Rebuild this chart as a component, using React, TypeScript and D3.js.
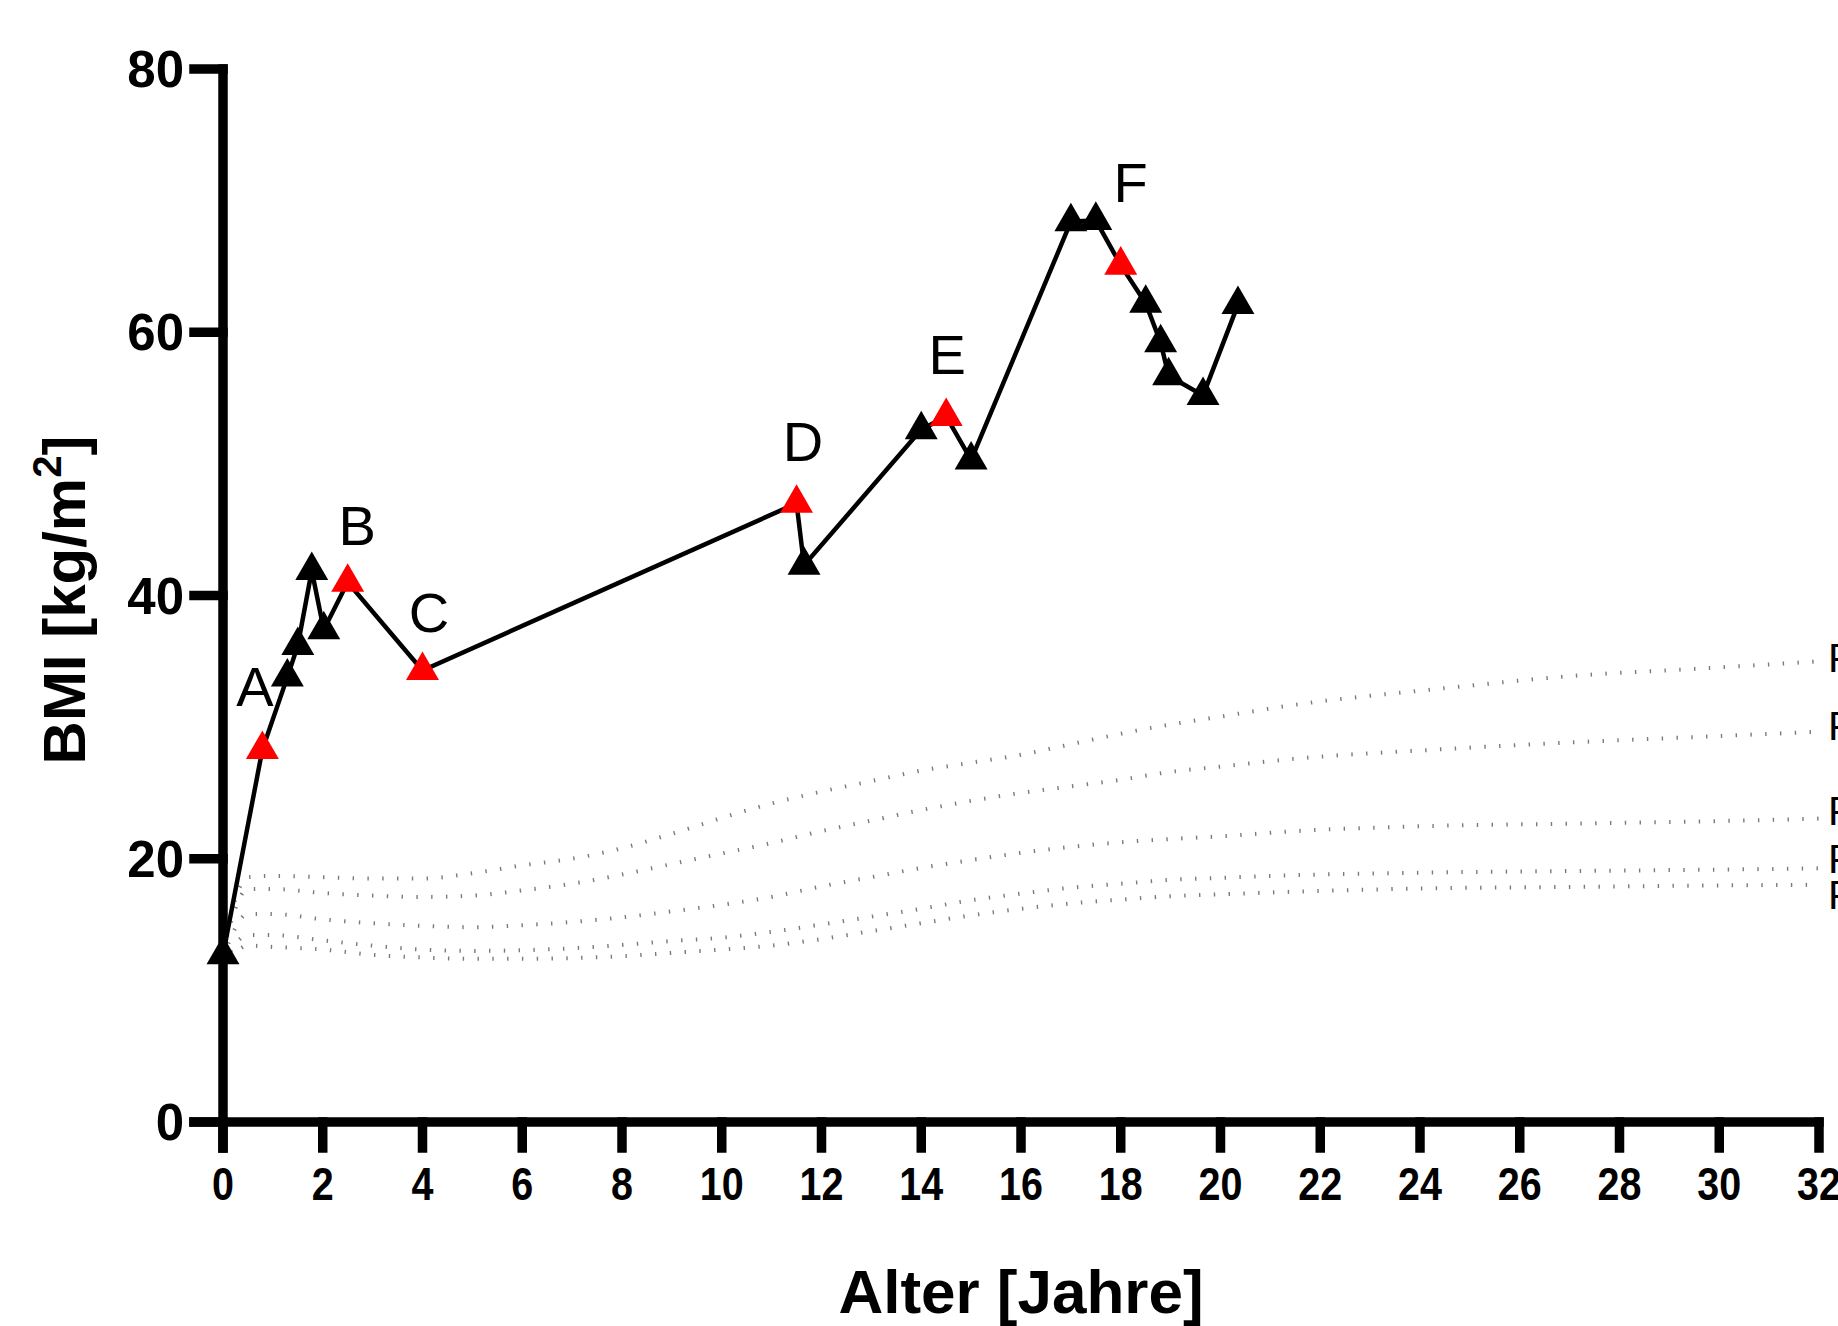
import React from "react";
import * as d3 from "d3";

// ---- Data ----
const PCT_AGES = [0, 0.5, 1, 2, 3, 4, 5, 6, 7, 8, 9, 10, 11, 12, 13, 14, 15, 16, 17, 18, 19, 20, 21.5, 24.35, 27.1, 29.85, 32];
const P97 = [13.5, 18.6, 18.7, 18.6, 18.5, 18.5, 18.9, 19.5, 20.0, 20.8, 21.9, 23.1, 24.2, 25.1, 25.9, 26.7, 27.3, 27.9, 28.7, 29.5, 30.2, 30.8, 31.7, 32.9, 33.9, 34.5, 35.0];
const P90 = [13.0, 17.7, 17.7, 17.4, 17.2, 17.1, 17.2, 17.6, 18.1, 18.8, 19.6, 20.4, 21.2, 22.1, 22.9, 23.7, 24.4, 25.0, 25.5, 26.0, 26.6, 27.0, 27.6, 28.3, 28.85, 29.3, 29.65];
const P50 = [12.5, 15.8, 15.8, 15.4, 15.1, 14.9, 14.8, 14.95, 15.2, 15.55, 16.0, 16.5, 17.1, 17.9, 18.6, 19.3, 19.9, 20.45, 20.9, 21.25, 21.5, 21.7, 22.1, 22.5, 22.67, 22.85, 23.05];
const P10 = [12.0, 14.2, 14.2, 13.8, 13.4, 13.1, 13.0, 13.05, 13.2, 13.45, 13.75, 14.0, 14.45, 15.0, 15.6, 16.2, 16.85, 17.35, 17.8, 18.1, 18.4, 18.55, 18.75, 18.96, 19.07, 19.17, 19.27];
const P3 = [11.5, 13.4, 13.3, 13.1, 12.7, 12.5, 12.4, 12.4, 12.45, 12.6, 12.85, 13.1, 13.4, 13.9, 14.5, 15.1, 15.7, 16.2, 16.6, 16.9, 17.15, 17.3, 17.5, 17.76, 17.86, 17.97, 18.02];
const PCT_SERIES = [P97, P90, P50, P10, P3];
const PCT_NAMES = ["P97", "P90", "P50", "P10", "P3"];
const PCT_LABEL_BMI = [34.2, 29.0, 22.6, 18.9, 16.2];

const PATIENT_AGE = [0, 0.79, 1.29, 1.5, 1.78, 2.02, 2.5, 4.0, 11.5, 11.65, 14.0, 14.5, 15.0, 17.0, 17.5, 18.0, 18.5, 18.8, 18.96, 19.65, 20.35];
const PATIENT_BMI = [12.7, 28.3, 33.8, 36.2, 41.9, 37.4, 41.0, 34.3, 47.0, 42.3, 52.6, 53.6, 50.3, 68.4, 68.5, 65.1, 62.2, 59.2, 56.7, 55.2, 62.1];
const PATIENT_HIGHLIGHT = [false, true, false, false, false, false, true, true, true, false, false, true, false, false, false, true, false, false, false, false, false];

const EVENT_LABELS = ["A", "B", "C", "D", "E", "F"];
const EVENT_AGE = [0.64, 2.69, 4.13, 11.63, 14.52, 18.2];
const EVENT_BMI = [31.6, 43.8, 37.2, 50.2, 56.8, 69.9];

const X_TICKS = [0, 2, 4, 6, 8, 10, 12, 14, 16, 18, 20, 22, 24, 26, 28, 30, 32];
const Y_TICKS = [0, 20, 40, 60, 80];

const W = 1838;
const H = 1326;

export default function App() {
  const x = d3.scaleLinear().domain([0, 32]).range([223, 1819]);
  const y = d3.scaleLinear().domain([0, 80]).range([1122, 69]);

  const pctLine = d3
    .line<number>()
    .x((_, i) => x(PCT_AGES[i]))
    .y((d) => y(d))
    .curve(d3.curveMonotoneX);

  const patientLine = d3
    .line<number>()
    .x((_, i) => x(PATIENT_AGE[i]))
    .y((d) => y(d));

  const tri = d3.symbol().type(d3.symbolTriangle).size(470)();

  const AX = 9.5;
  const yTickLen = 29;
  const xTickLen = 26;
  const font = "Arial, 'Liberation Sans', Helvetica, sans-serif";

  return (
    <svg
      width={W}
      height={H}
      viewBox={`0 0 ${W} ${H}`}
      style={{ position: "absolute", left: 0, top: 0, display: "block", background: "#fff" }}
      fontFamily={font}
    >
      {/* percentile curves */}
      <g fill="none" stroke="#7a7a7a" strokeWidth={4} strokeDasharray="1.4 13.4">
        {PCT_SERIES.map((s, k) => (
          <path key={k} d={pctLine(s) || ""} />
        ))}
      </g>
      {PCT_NAMES.map((n, k) => (
        <text key={n} x={1828} y={y(PCT_LABEL_BMI[k])} fontSize={41} fill="#000">
          {n}
        </text>
      ))}

      {/* patient line */}
      <path d={patientLine(PATIENT_BMI) || ""} fill="none" stroke="#000" strokeWidth={4.5} strokeLinejoin="miter" />
      {PATIENT_BMI.map((v, i) => (
        <path
          key={i}
          d={tri || ""}
          transform={`translate(${x(PATIENT_AGE[i])},${y(v)})`}
          fill={PATIENT_HIGHLIGHT[i] ? "#ff0000" : "#000"}
        />
      ))}

      {/* event labels */}
      {EVENT_LABELS.map((l, i) => (
        <text key={l} x={x(EVENT_AGE[i])} y={y(EVENT_BMI[i])} fontSize={56} textAnchor="middle" fill="#000">
          {l}
        </text>
      ))}

      {/* axes */}
      <g stroke="#000" strokeWidth={AX} strokeLinecap="square">
        <line x1={x(0)} x2={x(0)} y1={y(80)} y2={y(0) + xTickLen} />
        <line x1={x(0) - yTickLen} x2={x(32)} y1={y(0)} y2={y(0)} />
        {Y_TICKS.map((t) => (
          <line key={t} x1={x(0) - yTickLen} x2={x(0)} y1={y(t)} y2={y(t)} />
        ))}
        {X_TICKS.map((t) => (
          <line key={t} x1={x(t)} x2={x(t)} y1={y(0)} y2={y(0) + xTickLen} />
        ))}
      </g>

      {Y_TICKS.map((t) => (
        <text key={t} x={184} y={y(t) + 18} fontSize={51} fontWeight="bold" textAnchor="end" fill="#000">
          {t}
        </text>
      ))}
      {X_TICKS.map((t) => (
        <g key={t} transform={`translate(${x(t)},1200) scale(0.84,1)`}>
          <text x={0} y={0} fontSize={47} fontWeight="bold" textAnchor="middle" fill="#000">
            {t}
          </text>
        </g>
      ))}

      {/* axis titles */}
      <text x={1021} y={1313} fontSize={62} fontWeight="bold" textAnchor="middle" fill="#000">
        Alter [Jahre]
      </text>
      <text
        transform="translate(85,600) rotate(-90)"
        fontSize={60}
        fontWeight="bold"
        textAnchor="middle"
        fill="#000"
      >
        BMI [kg/m
        <tspan fontSize={40} dy={-24}>2</tspan>
        <tspan dy={24}>]</tspan>
      </text>
    </svg>
  );
}
